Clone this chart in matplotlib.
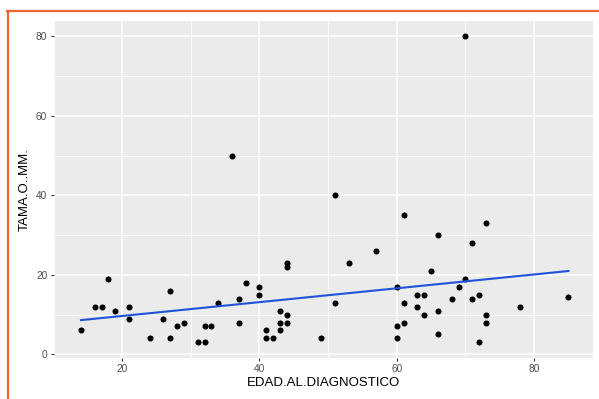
import numpy as np
import matplotlib
matplotlib.use("Agg")
import matplotlib.pyplot as plt
from matplotlib.lines import Line2D

plt.rcParams['font.family'] = ['Liberation Sans', 'DejaVu Sans']

edad = [14, 16, 17, 18, 19, 21, 21, 24, 26, 27, 27, 28, 29, 31, 32, 32, 33, 34,
        36, 37, 37, 38, 40, 40, 41, 41, 42, 43, 43, 43, 44, 44, 44, 44, 49, 51,
        51, 53, 57, 60, 60, 60, 61, 61, 61, 63, 63, 64, 64, 65, 66, 66, 66, 68,
        69, 70, 70, 71, 71, 72, 72, 73, 73, 73, 78, 85]
tamano = [6, 12, 12, 19, 11, 12, 9, 4, 9, 16, 4, 7, 8, 3, 3, 7, 7, 13,
          50, 14, 8, 18, 17, 15, 6, 4, 4, 11, 8, 6, 23, 22, 10, 8, 4, 40,
          13, 23, 26, 17, 7, 4, 35, 13, 8, 15, 12, 15, 10, 21, 30, 11, 5, 14,
          17, 80, 19, 28, 14, 15, 3, 33, 10, 8, 12, 14.5]
x_ticks = [20, 40, 60, 80]
y_ticks = [0, 20, 40, 60, 80]

x = np.array(edad, dtype=float)
y = np.array(tamano, dtype=float)

fig = plt.figure(figsize=(5.99, 3.99), dpi=100)
ax = fig.add_axes([53.5/599, (399-357.7)/399, (592.8-53.5)/599, (357.7-21)/399])
ax.set_facecolor('#EBEBEB')

xr = x.max() - x.min()
yr = y.max() - y.min()
ax.set_xlim(x.min() - 0.05*xr, x.max() + 0.05*xr)
ax.set_ylim(y.min() - 0.05*yr, y.max() + 0.05*yr)

ax.set_xticks(x_ticks)
ax.set_yticks(y_ticks)
ax.set_xticks([10, 30, 50, 70], minor=True)
ax.set_yticks([10, 30, 50, 70], minor=True)
ax.grid(which='major', color='white', linewidth=1.1)
ax.grid(which='minor', color='white', linewidth=0.55)
ax.set_axisbelow(True)
for s in ax.spines.values():
    s.set_visible(False)
ax.tick_params(which='major', length=2.5, width=0.8, color='#333333',
               labelsize=7.3, labelcolor='#4D4D4D', pad=2)
ax.tick_params(which='minor', length=0)

ax.scatter(x, y, s=19, color='black', zorder=3, linewidths=0)
coef = np.polyfit(x, y, 1)
xs = np.linspace(x.min(), x.max(), 80)
ax.plot(xs, np.polyval(coef, xs), color='#2152DA', linewidth=1.5, zorder=4)

ax.set_xlabel('EDAD.AL.DIAGNOSTICO', fontsize=9.5, color='black', labelpad=2)
ax.set_ylabel('TAMA.O..MM.', fontsize=9.5, color='black', labelpad=4)

# orange screenshot border
fig.add_artist(Line2D([7/599, 1.0], [1-10.5/399, 1-10.5/399], transform=fig.transFigure,
                      color='#F0642F', linewidth=1.6))
fig.add_artist(Line2D([7.5/599, 7.5/599], [0, 1-10.5/399], transform=fig.transFigure,
                      color='#F0642F', linewidth=1.6))

fig.savefig('out.png', dpi=100)
